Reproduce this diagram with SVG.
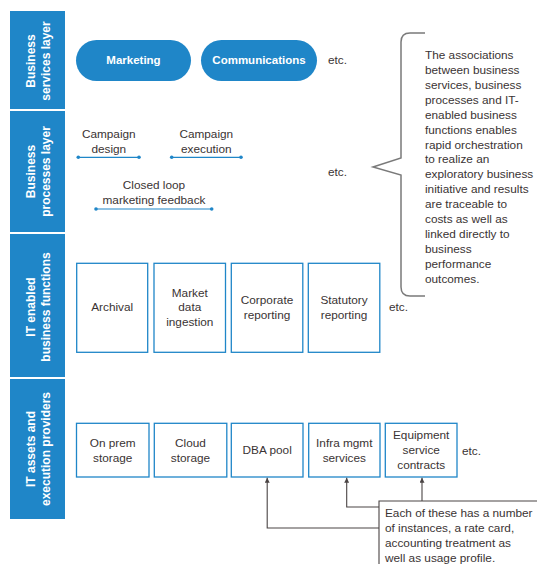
<svg xmlns="http://www.w3.org/2000/svg" width="553" height="586" viewBox="0 0 553 586">
<defs>
<style>
.side{fill:#1f86c8}
.st{font-family:"Liberation Sans",Arial,sans-serif;font-size:12px;font-weight:bold;fill:#fff;text-anchor:middle}
.t{font-family:"Liberation Sans",Arial,sans-serif;font-size:11.8px;fill:#3a3333}
.c{text-anchor:middle}
.pill{fill:#1f86c8}
.pt{font-family:"Liberation Sans",Arial,sans-serif;font-size:11.5px;font-weight:bold;fill:#fff;text-anchor:middle}
.box{fill:#fff;stroke:#1f86c8;stroke-width:1.3}
.pl{stroke:#1f86c8;stroke-width:1.2;fill:none}
.dot{fill:#1f86c8}
.conn{stroke:#4a4444;stroke-width:1.1;fill:none}
</style>
<marker id="ah" viewBox="0 0 10 10" refX="10" refY="5" markerWidth="7" markerHeight="5" orient="auto" markerUnits="userSpaceOnUse">
<path d="M0,0 L10,5 L0,10 z" fill="#4a4444"/>
</marker>
</defs>
<rect width="553" height="586" fill="#fff"/>

<g id="layer-services">
<rect class="side" x="10" y="11" width="55" height="98"/>
<text class="st" transform="translate(34.5,61) rotate(-90)">Business</text>
<text class="st" transform="translate(49.5,61) rotate(-90)">services layer</text>
</g>
<g id="layer-processes">
<rect class="side" x="10" y="111" width="55" height="121"/>
<text class="st" transform="translate(34.5,171.5) rotate(-90)">Business</text>
<text class="st" transform="translate(49.5,171.5) rotate(-90)">processes layer</text>
</g>
<g id="layer-functions">
<rect class="side" x="10" y="234" width="55" height="143"/>
<text class="st" transform="translate(34.5,307) rotate(-90)">IT enabled</text>
<text class="st" transform="translate(49.5,307) rotate(-90)">business functions</text>
</g>
<g id="layer-assets">
<rect class="side" x="10" y="379" width="55" height="140"/>
<text class="st" transform="translate(34.5,449) rotate(-90)">IT assets and</text>
<text class="st" transform="translate(49.5,449) rotate(-90)">execution providers</text>
</g>

<g id="marketing">
<rect class="pill" x="76" y="40" width="115" height="41" rx="20.5"/>
<text class="pt" x="133.5" y="64.2">Marketing</text>
</g>
<g id="communications">
<rect class="pill" x="201" y="40" width="116" height="41" rx="20.5"/>
<text class="pt" x="259" y="64.2">Communications</text>
</g>
<text class="t" x="328" y="64.3">etc.</text>

<g id="campaign-design">
<text class="t c" x="108.8" y="137.5">Campaign</text>
<text class="t c" x="108.8" y="153">design</text>
<line class="pl" x1="78.3" y1="157.3" x2="139" y2="157.3"/>
<circle class="dot" cx="78.3" cy="157.3" r="1.8"/>
<circle class="dot" cx="139" cy="157.3" r="1.8"/>
</g>
<g id="campaign-execution">
<text class="t c" x="206.3" y="137.5">Campaign</text>
<text class="t c" x="206.3" y="153">execution</text>
<line class="pl" x1="171.7" y1="157.3" x2="241" y2="157.3"/>
<circle class="dot" cx="171.7" cy="157.3" r="1.8"/>
<circle class="dot" cx="241" cy="157.3" r="1.8"/>
</g>
<g id="closed-loop">
<text class="t c" x="154" y="189">Closed loop</text>
<text class="t c" x="154" y="203.5">marketing feedback</text>
<line class="pl" x1="96" y1="209" x2="211.7" y2="209"/>
<circle class="dot" cx="96" cy="209" r="1.8"/>
<circle class="dot" cx="211.7" cy="209" r="1.8"/>
</g>
<text class="t" x="328" y="175.8">etc.</text>

<g id="brace-note">
<path d="M425,33 H410 Q401,33 401,42 V158 L373,167 L401,175 V287 Q401,296 410,296 H425" fill="none" stroke="#7a7a7a" stroke-width="1.5"/>
<text class="t" x="425" y="59">The associations</text>
<text class="t" x="425" y="74">between business</text>
<text class="t" x="425" y="89">services, business</text>
<text class="t" x="425" y="104">processes and IT-</text>
<text class="t" x="425" y="119">enabled business</text>
<text class="t" x="425" y="134">functions enables</text>
<text class="t" x="425" y="148.5">rapid orchestration</text>
<text class="t" x="425" y="163.3">to realize an</text>
<text class="t" x="425" y="178.2">exploratory business</text>
<text class="t" x="425" y="193.2">initiative and results</text>
<text class="t" x="425" y="208.2">are traceable to</text>
<text class="t" x="425" y="223.2">costs as well as</text>
<text class="t" x="425" y="238.2">linked directly to</text>
<text class="t" x="425" y="253.2">business</text>
<text class="t" x="425" y="268">performance</text>
<text class="t" x="425" y="282.5">outcomes.</text>
</g>

<g id="archival">
<rect class="box" x="76.7" y="263.3" width="71" height="89"/>
<text class="t c" x="112.2" y="311.2">Archival</text>
</g>
<g id="market-data">
<rect class="box" x="154" y="263.3" width="71.5" height="89"/>
<text class="t c" x="189.8" y="296.5">Market</text>
<text class="t c" x="189.8" y="311.2">data</text>
<text class="t c" x="189.8" y="326.2">ingestion</text>
</g>
<g id="corporate-reporting">
<rect class="box" x="231.3" y="263.3" width="71.5" height="89"/>
<text class="t c" x="267" y="304.2">Corporate</text>
<text class="t c" x="267" y="319.2">reporting</text>
</g>
<g id="statutory-reporting">
<rect class="box" x="308.3" y="263.3" width="71.5" height="89"/>
<text class="t c" x="344" y="304.2">Statutory</text>
<text class="t c" x="344" y="319.2">reporting</text>
</g>
<text class="t" x="389" y="311.2">etc.</text>

<g id="on-prem">
<rect class="box" x="76.5" y="423.3" width="72.5" height="53.7"/>
<text class="t c" x="112.7" y="446.5">On prem</text>
<text class="t c" x="112.7" y="461.5">storage</text>
</g>
<g id="cloud">
<rect class="box" x="154.3" y="423.3" width="72.5" height="53.7"/>
<text class="t c" x="190.5" y="446.5">Cloud</text>
<text class="t c" x="190.5" y="461.5">storage</text>
</g>
<g id="dba-pool">
<rect class="box" x="231.3" y="423.3" width="71.7" height="53.7"/>
<text class="t c" x="267.2" y="454.2">DBA pool</text>
</g>
<g id="infra-mgmt">
<rect class="box" x="308.7" y="423.3" width="71.3" height="53.7"/>
<text class="t c" x="344.3" y="446.5">Infra mgmt</text>
<text class="t c" x="344.3" y="461.5">services</text>
</g>
<g id="equipment">
<rect class="box" x="385.3" y="423.3" width="71.7" height="53.7"/>
<text class="t c" x="421.2" y="439.2">Equipment</text>
<text class="t c" x="421.2" y="454.2">service</text>
<text class="t c" x="421.2" y="469.2">contracts</text>
</g>
<text class="t" x="462" y="455.2">etc.</text>

<g id="callout">
<path d="M537,501 H379 V564" fill="none" stroke="#4a4444" stroke-width="1.1"/>
<text class="t" x="385" y="517.2">Each of these has a number</text>
<text class="t" x="385" y="532.2">of instances, a rate card,</text>
<text class="t" x="385" y="547.2">accounting treatment as</text>
<text class="t" x="385" y="562.2">well as usage profile.</text>
</g>

<g id="connectors">
<path class="conn" d="M379,528 H267.2 V477.8" marker-end="url(#ah)"/>
<path class="conn" d="M379,507 H346.7 V477.8" marker-end="url(#ah)"/>
<path class="conn" d="M422,501 V477.8" marker-end="url(#ah)"/>
</g>
</svg>
